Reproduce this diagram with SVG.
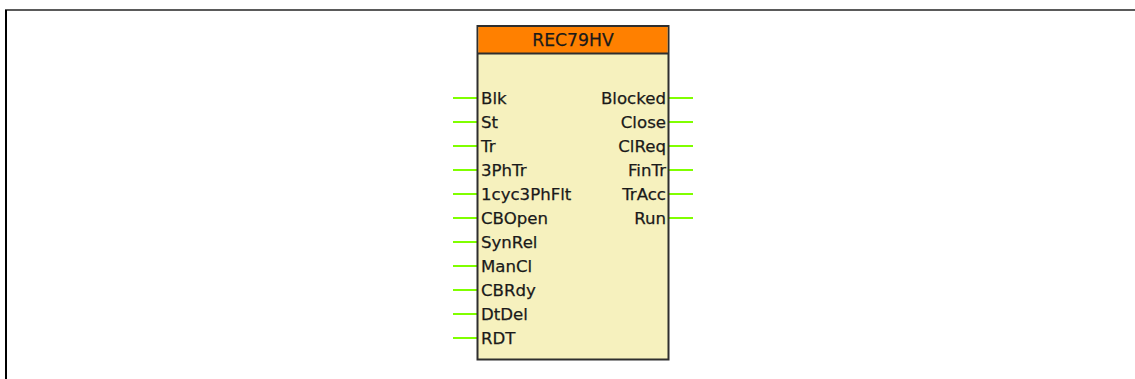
<svg xmlns="http://www.w3.org/2000/svg" width="1135" height="379" viewBox="0 0 1135 379">
<style>
.pin{stroke:#80FF00;stroke-width:2;fill:none}
.lbl{font-family:"DejaVu Sans",sans-serif;font-size:16.6px;fill:#1a1a1a;stroke:#1a1a1a;stroke-width:0.25}
.r{text-anchor:end}
</style>
<rect width="1135" height="379" fill="#ffffff"/>
<g id="frame">
<line x1="5" y1="10" x2="1135" y2="10" stroke="#5a5a5a" stroke-width="2"/>
<line x1="6" y1="10" x2="6" y2="379" stroke="#000" stroke-width="2"/>
</g>
<g id="connectors">
<line class="pin" x1="453" y1="98" x2="478" y2="98"/>
<line class="pin" x1="453" y1="122" x2="478" y2="122"/>
<line class="pin" x1="453" y1="146" x2="478" y2="146"/>
<line class="pin" x1="453" y1="170" x2="478" y2="170"/>
<line class="pin" x1="453" y1="194" x2="478" y2="194"/>
<line class="pin" x1="453" y1="218" x2="478" y2="218"/>
<line class="pin" x1="453" y1="242" x2="478" y2="242"/>
<line class="pin" x1="453" y1="266" x2="478" y2="266"/>
<line class="pin" x1="453" y1="290" x2="478" y2="290"/>
<line class="pin" x1="453" y1="314" x2="478" y2="314"/>
<line class="pin" x1="453" y1="338" x2="478" y2="338"/>
<line class="pin" x1="668" y1="98" x2="693" y2="98"/>
<line class="pin" x1="668" y1="122" x2="693" y2="122"/>
<line class="pin" x1="668" y1="146" x2="693" y2="146"/>
<line class="pin" x1="668" y1="170" x2="693" y2="170"/>
<line class="pin" x1="668" y1="194" x2="693" y2="194"/>
<line class="pin" x1="668" y1="218" x2="693" y2="218"/>
</g>
<g id="REC79HV">
<rect x="477.5" y="26" width="191" height="333.5" fill="#F6F1BE" stroke="#2e2e2e" stroke-width="2"/>
<rect x="478.5" y="27" width="189" height="26.5" fill="#FF8000"/>
<line x1="477.5" y1="53.5" x2="668.5" y2="53.5" stroke="#2e2e2e" stroke-width="2"/>
<text class="lbl" x="573" y="46" text-anchor="middle" style="font-size:17.2px">REC79HV</text>
<text class="lbl" x="481" y="104">Blk</text>
<text class="lbl" x="481" y="128">St</text>
<text class="lbl" x="481" y="152">Tr</text>
<text class="lbl" x="481" y="176">3PhTr</text>
<text class="lbl" x="481" y="200">1cyc3PhFlt</text>
<text class="lbl" x="481" y="224">CBOpen</text>
<text class="lbl" x="481" y="248">SynRel</text>
<text class="lbl" x="481" y="272">ManCl</text>
<text class="lbl" x="481" y="296">CBRdy</text>
<text class="lbl" x="481" y="320">DtDel</text>
<text class="lbl" x="481" y="344">RDT</text>
<text class="lbl r" x="666" y="104">Blocked</text>
<text class="lbl r" x="666" y="128">Close</text>
<text class="lbl r" x="666" y="152">ClReq</text>
<text class="lbl r" x="666" y="176">FinTr</text>
<text class="lbl r" x="666" y="200">TrAcc</text>
<text class="lbl r" x="666" y="224">Run</text>
</g>
</svg>
